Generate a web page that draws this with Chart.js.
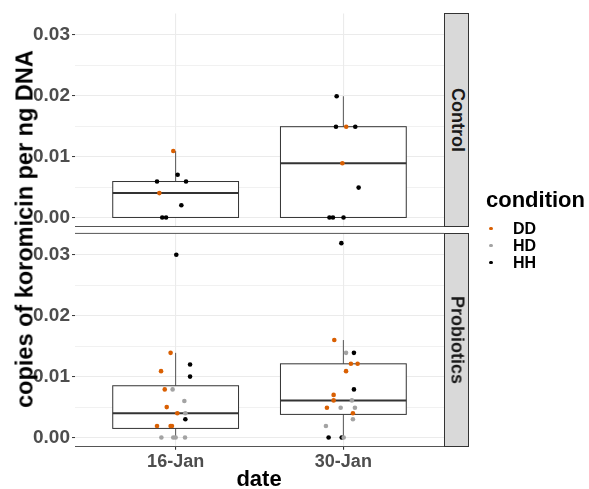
<!DOCTYPE html>
<html>
<head>
<meta charset="utf-8">
<script src="https://cdn.jsdelivr.net/npm/chart.js@4.4.1/dist/chart.umd.min.js"></script>
<style>
    body { margin: 0; background: #fff; font-family: 'Liberation Sans', Arial, sans-serif; }
    #wrap { position: relative; width: 589px; height: 489px; overflow: hidden; }
    canvas { position: absolute; left: 0; }
    .strip { position: absolute; left: 444px; width: 25px; background: #D9D9D9; border: 1px solid #333; box-sizing: border-box; }
    .strip span { position: absolute; left: 50%; top: 50%; transform: translate(-50%, -50%) rotate(90deg); font-weight: bold; font-size: 18px; color: #1A1A1A; white-space: nowrap; }
    #ytitle { position: absolute; left: 25px; top: 229px; transform: translate(-50%, -50%) rotate(-90deg); font-weight: bold; font-size: 23.5px; white-space: nowrap; color: #000; }
    #xtitle { position: absolute; left: 259px; top: 466px; transform: translateX(-50%); font-weight: bold; font-size: 22px; color: #000; }
    #legend { position: absolute; left: 486px; top: 187px; }
    #legend .title { font-weight: bold; font-size: 22px; line-height: 25px; margin-bottom: 8px; }
    #legend .item { position: relative; height: 17px; line-height: 17px; padding-left: 27px; font-weight: bold; font-size: 16px; }
    #legend .dot { position: absolute; left: 3px; top: 6.7px; width: 3.5px; height: 3.5px; border-radius: 50%; }
</style>
</head>
<body>
<div id="wrap">
    <canvas id="control" width="589" height="240" style="top:0"></canvas>
    <canvas id="probiotics" width="589" height="269" style="top:220px"></canvas>
    <div class="strip" style="top:13px;height:214px"><span>Control</span></div>
    <div class="strip" style="top:232.7px;height:214px"><span>Probiotics</span></div>
    <div id="ytitle">copies of koromicin per ng DNA</div>
    <div id="xtitle">date</div>
    <div id="legend"></div>
</div>
<script>
const dates = ['16-Jan', '30-Jan'];
const conditions = ['DD', 'HD', 'HH'];
const conditionColors = ['#D95F02', '#A3A3A3', '#000000'];

const yTicks = [0, 0.005, 0.01, 0.015, 0.02, 0.025, 0.03];
const yTickLabels = ['0.00', '', '0.01', '', '0.02', '', '0.03'];

// jittered points: x is the date position (1 = 16-Jan, 2 = 30-Jan)
const controlX = [0.986, 1.012, 0.889, 1.062, 0.903, 1.034, 0.920, 0.943,
    1.960, 1.956, 2.017, 2.071, 1.994, 2.091, 1.917, 1.938, 2.001];
const controlY = [0.0109, 0.007, 0.0059, 0.0059, 0.004, 0.002, 0, 0,
    0.0199, 0.0149, 0.0149, 0.0149, 0.0089, 0.0049, 0, 0, 0];
const controlGroup = ['DD', 'HH', 'HH', 'HH', 'DD', 'HH', 'HH', 'HH',
    'HH', 'HH', 'DD', 'HH', 'DD', 'HH', 'HH', 'HH', 'HH'];

const probioX = [1.004, 0.970, 1.086, 0.913, 1.086, 0.935, 0.982, 1.052, 0.947, 1.010,
    1.058, 1.058, 0.889, 0.970, 0.978, 0.915, 0.986, 1.000, 1.056,
    1.988, 1.946, 2.016, 2.063, 2.045, 2.085, 2.016, 2.063, 1.942, 1.942,
    2.051, 1.902, 1.984, 2.069, 2.057, 2.057, 1.896, 1.912, 1.990, 2.002];
const probioY = [0.030, 0.0139, 0.012, 0.0109, 0.010, 0.0079, 0.0079, 0.006, 0.005, 0.004,
    0.004, 0.003, 0.0019, 0.0019, 0.0019, 0, 0, 0, 0,
    0.0319, 0.016, 0.0139, 0.0139, 0.0121, 0.0121, 0.0109, 0.0079, 0.007, 0.0061,
    0.0061, 0.0049, 0.0049, 0.0049, 0.004, 0.003, 0.0019, 0, 0, 0];
const probioGroup = ['HH', 'DD', 'HH', 'DD', 'HH', 'DD', 'HD', 'HD', 'DD', 'DD',
    'HD', 'HH', 'DD', 'DD', 'DD', 'HD', 'HD', 'HD', 'HD',
    'HH', 'DD', 'HD', 'HH', 'DD', 'DD', 'DD', 'HH', 'DD', 'DD',
    'HD', 'DD', 'HD', 'HD', 'DD', 'HD', 'HD', 'HH', 'HH', 'HD'];

// box stats per date
const controlLow = [0, 0];
const controlQ1 = [0, 0];
const controlMed = [0.004, 0.0089];
const controlQ3 = [0.0059, 0.0149];
const controlHigh = [0.0109, 0.0199];

const probioLow = [0, 0];
const probioQ1 = [0.0015, 0.0038];
const probioMed = [0.004, 0.0061];
const probioQ3 = [0.0085, 0.0121];
const probioHigh = [0.0139, 0.016];

const FONT = "'Liberation Sans', Arial, sans-serif";

function boxPlugin(low, q1, med, q3, high, topLine) {
    return {
        id: 'boxes',
        beforeDatasetsDraw(chart) {
            const ctx = chart.ctx;
            const x = chart.scales.x, y = chart.scales.y;
            const area = chart.chartArea;
            ctx.save();
            if (topLine) {
                ctx.strokeStyle = '#555';
                ctx.lineWidth = 1;
                ctx.beginPath();
                ctx.moveTo(area.left, area.top);
                ctx.lineTo(area.right, area.top);
                ctx.stroke();
            }
            dates.forEach((d, i) => {
                const xc = x.getPixelForValue(i + 1);
                const xl = x.getPixelForValue(i + 1 - 0.375);
                const xr = x.getPixelForValue(i + 1 + 0.375);
                ctx.strokeStyle = '#555';
                ctx.lineWidth = 1;
                ctx.beginPath();
                ctx.moveTo(xc, y.getPixelForValue(high[i]));
                ctx.lineTo(xc, y.getPixelForValue(q3[i]));
                ctx.moveTo(xc, y.getPixelForValue(q1[i]));
                ctx.lineTo(xc, y.getPixelForValue(low[i]));
                ctx.stroke();
                ctx.strokeStyle = '#333';
                const yt = y.getPixelForValue(q3[i]);
                const yb = y.getPixelForValue(q1[i]);
                ctx.fillStyle = '#fff';
                ctx.fillRect(xl, yt, xr - xl, yb - yt);
                ctx.strokeRect(xl, yt, xr - xl, yb - yt);
                ctx.lineWidth = 2;
                ctx.beginPath();
                ctx.moveTo(xl, y.getPixelForValue(med[i]));
                ctx.lineTo(xr, y.getPixelForValue(med[i]));
                ctx.stroke();
            });
            ctx.restore();
        }
    };
}

function makeChart(id, xs, ys, groups, plugin, showX, padTop, xHeight) {
    const datasets = conditions.map((c, k) => ({
        label: c,
        data: xs.map((v, i) => ({ x: v, y: ys[i], g: groups[i] })).filter(p => p.g === c),
        backgroundColor: conditionColors[k],
        borderWidth: 0,
        pointRadius: 2.3
    }));
    return new Chart(document.getElementById(id).getContext('2d'), {
        type: 'scatter',
        data: { datasets: datasets },
        plugins: [plugin],
        options: {
            responsive: false,
            animation: false,
            layout: { padding: { top: padTop, right: 145, left: 0, bottom: 0 } },
            plugins: { legend: { display: false }, tooltip: { enabled: false } },
            scales: {
                x: {
                    type: 'linear', min: 0.4, max: 2.6,
                    afterBuildTicks: s => { s.ticks = dates.map((d, i) => ({ value: i + 1 })); },
                    afterFit: s => { s.height = xHeight; },
                    border: { display: true, color: '#555', width: 1 },
                    grid: { color: '#EBEBEB', lineWidth: 1.1, drawTicks: showX, tickLength: 3, tickColor: '#333' },
                    ticks: {
                        display: showX, autoSkip: false, maxRotation: 0, padding: 2,
                        color: '#4D4D4D', font: { family: FONT, size: 18, weight: 'bold' },
                        callback: (v, i) => dates[i]
                    }
                },
                y: {
                    type: 'linear', min: -0.0015, max: 0.0335,
                    afterBuildTicks: s => { s.ticks = yTicks.map(v => ({ value: v })); },
                    afterFit: s => { s.width = 75; },
                    border: { display: false },
                    grid: {
                        color: '#EBEBEB',
                        lineWidth: c => (yTickLabels[c.index] ? 1.1 : 0.7),
                        tickLength: 3,
                        tickWidth: 1,
                        tickColor: c => (yTickLabels[c.index] ? '#333' : 'rgba(0,0,0,0)')
                    },
                    ticks: {
                        autoSkip: false, padding: 2,
                        color: '#4D4D4D', font: { family: FONT, size: 19, weight: 'bold' },
                        callback: (v, i) => yTickLabels[i]
                    }
                }
            }
        }
    });
}

makeChart('control', controlX, controlY, controlGroup,
    boxPlugin(controlLow, controlQ1, controlMed, controlQ3, controlHigh, false), false, 13, 13.3);
makeChart('probiotics', probioX, probioY, probioGroup,
    boxPlugin(probioLow, probioQ1, probioMed, probioQ3, probioHigh, true), true, 12.7, 42.3);

const legend = document.getElementById('legend');
legend.innerHTML = '<div class="title">condition</div>' + conditions.map((c, k) =>
    `<div class="item"><span class="dot" style="background:${conditionColors[k]}"></span>${c}</div>`).join('');
</script>
</body>
</html>
